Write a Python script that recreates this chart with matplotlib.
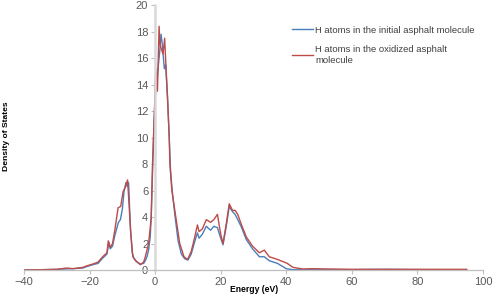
import matplotlib
matplotlib.use("Agg")
import matplotlib.pyplot as plt

# ── Data ─────────────────────────────────────────────────────────────────────

energy_initial = [-40, -35, -30, -27, -25, -22, -21, -19, -17.4, -16, -14.7,
                  -14.1, -13.7, -13, -12.3, -11.2, -10.6, -10, -9.5, -8.9,
                  -8.5, -8.1, -7.5, -7, -6.5, -5.5, -4.5, -3.5, -3, -2.5, -2,
                  -1.5, -1.2, -0.9, -0.6, -0.3, 0, 0.4, 1.0, 1.4, 1.8, 2.2,
                  2.8, 3.2, 3.8, 4.3, 4.7, 5.2, 6.0, 7.0, 8.0, 9.0, 10.0,
                  11.0, 11.9, 12.9, 13.4, 14.4, 15.6, 16.9, 17.9, 19.0, 20.0,
                  20.7, 21.7, 22.6, 23.6, 24.4, 25.2, 26.2, 27.8, 29.7, 31.8,
                  33.3, 34.8, 37.3, 40, 42, 45, 50, 60, 70, 80, 90, 95]
dos_initial = [0.0, 0.02, 0.05, 0.08, 0.1, 0.15, 0.25, 0.4, 0.5, 0.9, 1.2,
               2.1, 1.6, 1.8, 2.6, 3.6, 3.8, 4.6, 5.9, 6.6, 6.3, 6.6, 3.0,
               1.3, 0.9, 0.6, 0.45, 0.5, 0.7, 1.0, 1.5, 2.5, 4.0, 6.5, 9.0,
               11.5, 13.0, 13.8, 15.5, 16.5, 17.8, 17.0, 15.2, 15.5, 13.0,
               10.0, 7.5, 6.0, 4.2, 2.2, 1.2, 0.85, 0.75, 1.2, 2.0, 2.8, 2.4,
               2.7, 3.3, 3.0, 3.3, 3.2, 2.4, 1.9, 3.3, 4.8, 4.4, 4.2, 3.8,
               3.3, 2.3, 1.6, 1.0, 1.0, 0.7, 0.5, 0.1, 0.02, 0.02, 0.02,
               0.03, 0.05, 0.03, 0.02, 0.02]

energy_oxidized = [-40, -35, -30, -27, -25, -22, -21, -19, -17.4, -16, -14.7,
                   -14.3, -13.7, -13, -12.3, -11.3, -10.5, -9.8, -9.2, -8.4,
                   -7.5, -6.8, -6, -5, -4.5, -3.5, -3, -2.5, -2, -1.5, -1.2,
                   -1.0, -0.8, -0.5, -0.2, 0, 0.2, 0.7, 1.2, 1.5, 2.4, 2.9,
                   3.7, 4.3, 4.5, 5.1, 6.3, 7.5, 8.8, 9.9, 11.0, 11.9, 12.9,
                   13.4, 14.4, 15.6, 16.9, 17.9, 19.0, 20.0, 20.7, 21.7, 22.6,
                   23.6, 24.4, 25.2, 26.2, 27.8, 29.7, 31.8, 33.3, 34.8, 37.3,
                   40.3, 42, 45, 48, 52, 60, 70, 80, 90, 95]
dos_oxidized = [0.0, 0.02, 0.05, 0.15, 0.1, 0.2, 0.3, 0.45, 0.6, 1.0, 1.3,
                2.2, 1.7, 2.0, 3.0, 4.7, 4.8, 5.9, 6.2, 6.8, 3.0, 1.0, 0.7,
                0.5, 0.4, 0.6, 1.0, 1.5, 2.0, 3.2, 4.0, 6.0, 8.0, 10.0, 12.0,
                14.0, 15.2, 13.5, 18.4, 17.0, 16.3, 17.5, 13.3, 10.0, 8.0,
                6.0, 4.0, 2.0, 1.0, 0.8, 1.4, 2.3, 3.4, 2.9, 3.1, 3.8, 3.6,
                3.8, 4.2, 2.7, 2.0, 3.5, 5.0, 4.5, 4.5, 4.2, 3.5, 2.5, 1.8,
                1.3, 1.5, 1.0, 0.8, 0.5, 0.2, 0.08, 0.1, 0.08, 0.05, 0.05,
                0.05, 0.05, 0.05]

x_ticks = [-40, -20, 0, 20, 40, 60, 80, 100]
y_ticks = [0, 2, 4, 6, 8, 10, 12, 14, 16, 18, 20]

BLUE = "#4a7ebb"
RED = "#be4b48"
AXIS_GREY = "#d9d9d9"
TEXT_GREY = "#595959"

plt.rcParams["font.family"] = ["Liberation Sans", "DejaVu Sans"]

fig = plt.figure(figsize=(5.0, 2.99), dpi=100)
ax = fig.add_axes([0.048, 0.097, 0.918, 0.886])

ax.plot(energy_initial, dos_initial, color=BLUE, lw=1.0,
        label="H atoms in the initial asphalt molecule")
ax.plot(energy_oxidized, dos_oxidized, color=RED, lw=1.0,
        label="H atoms in the oxidized asphalt\nmolecule")

ax.set_xlim(-40, 100)
ax.set_ylim(0, 20)
ax.set_xticks(x_ticks)
ax.set_yticks(y_ticks)

# Excel-style axes crossing at zero
for side in ("top", "right"):
    ax.spines[side].set_visible(False)
ax.spines["left"].set_position(("data", 0))
ax.spines["left"].set_color(AXIS_GREY)
ax.spines["left"].set_linewidth(1.8)
ax.spines["bottom"].set_color("#bfbfbf")
ax.spines["bottom"].set_linewidth(0.9)
ax.tick_params(axis="y", direction="out", length=3, color="#bfbfbf",
               labelsize=8, labelcolor=TEXT_GREY, pad=2)
ax.tick_params(axis="x", direction="out", length=3, color="#bfbfbf",
               labelsize=8, labelcolor=TEXT_GREY, pad=2)

fig.text(0.014, 0.545, "Density of States", rotation=90, fontsize=6.1,
         fontweight="bold", ha="center", va="center")
fig.text(0.508, 0.033, "Energy (eV)", fontsize=6.2, fontweight="bold",
         ha="center", va="center")

ax.legend(loc="upper left", bbox_to_anchor=(0.565, 0.955), frameon=False,
          fontsize=6.8, handlelength=2.2, handletextpad=0.3,
          labelspacing=1.15, labelcolor="#404040")

fig.savefig("out.png", dpi=100)
